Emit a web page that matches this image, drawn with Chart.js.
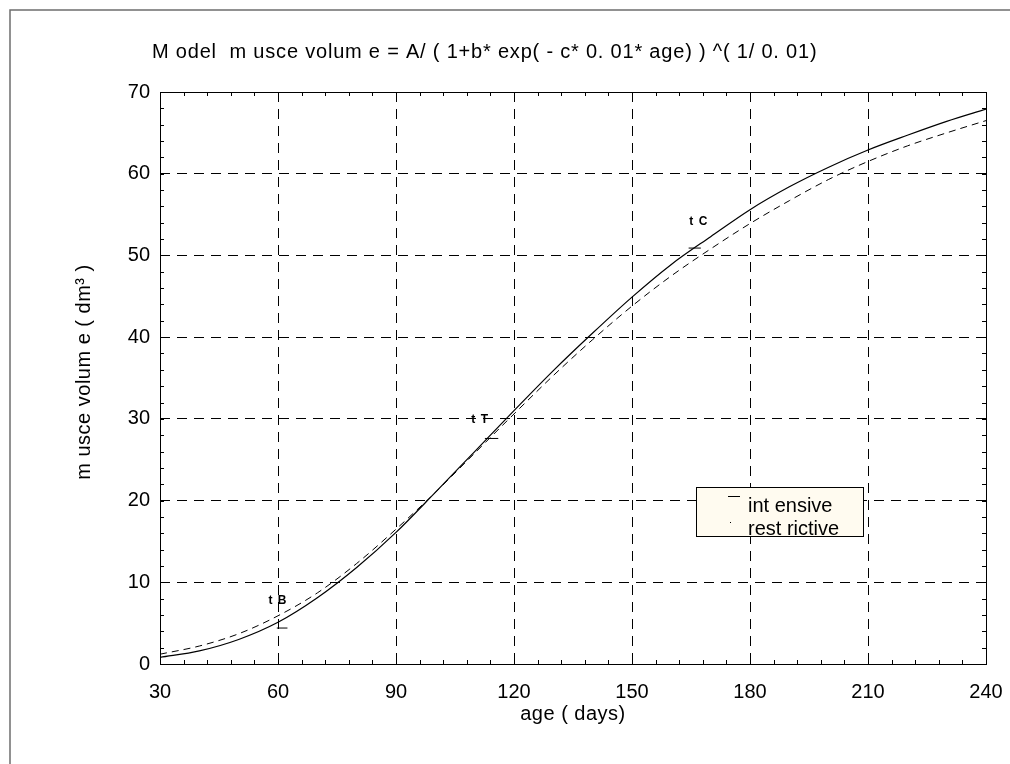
<!DOCTYPE html>
<html>
<head>
<meta charset="utf-8">
<script src="https://cdn.jsdelivr.net/npm/chart.js@4.4.0/dist/chart.umd.min.js"></script>
<style>
  html, body { margin: 0; padding: 0; background: #fff; }
  canvas { display: block; }
</style>
</head>
<body>
<canvas id="chart" width="1010" height="764"></canvas>
<script>
// age in days
const ages = [30, 40, 50, 60, 70, 80, 90, 100, 110, 120, 130, 140, 150, 160, 170, 180, 190, 200, 210, 220, 230, 240];
// muscle volume, dm^3
const intensive = [0.8, 1.6, 3.0, 5.1, 8.1, 11.8, 16.1, 21.0, 26.0, 31.0, 35.9, 40.5, 44.9, 48.9, 52.3, 55.6, 58.4, 60.8, 62.9, 64.7, 66.4, 67.9];
const restrictive = [1.2, 2.2, 3.7, 5.9, 8.7, 12.3, 16.5, 21.0, 25.8, 30.6, 35.3, 39.7, 43.8, 47.5, 50.8, 53.9, 56.7, 59.3, 61.5, 63.4, 65.0, 66.5];

const xTicks = [30, 60, 90, 120, 150, 180, 210, 240];
const yTicks = [0, 10, 20, 30, 40, 50, 60, 70];

// tB / tT / tC markers: short horizontal strokes, and label anchors
const markerNames = ['t B', 't T', 't C'];
const markerFrom = [59.7, 112.6, 164.4];
const markerTo = [62.4, 116.0, 167.5];
const markerLevel = [4.4, 27.6, 50.9];
const labelAge = [60, 111.4, 167];
const labelLevel = [7.8, 29.9, 54.1];

const FONT = '"Liberation Sans", Arial, sans-serif';

function pts(xs, ys) {
  return xs.map((x, i) => ({ x, y: ys[i] }));
}

const markerSets = markerNames.map((name, i) => ({
  label: name,
  data: [{ x: markerFrom[i], y: markerLevel[i] }, { x: markerTo[i], y: markerLevel[i] }],
  borderColor: '#000',
  borderWidth: 1,
  pointRadius: 0,
  fill: false,
}));

const decorations = {
  id: 'decorations',
  afterDatasetsDraw(chart) {
    const { ctx, chartArea: a, scales } = chart;
    const sx = scales.x, sy = scales.y;
    ctx.save();

    // axes box
    ctx.strokeStyle = '#000';
    ctx.lineWidth = 1;
    ctx.strokeRect(a.left + 0.5, a.top + 0.5, a.right - a.left, a.bottom - a.top);

    // minor ticks inside the box
    ctx.beginPath();
    for (let v = 30; v <= 240; v += 6) {
      const px = Math.round(sx.getPixelForValue(v)) + 0.5;
      ctx.moveTo(px, a.bottom); ctx.lineTo(px, a.bottom - 4);
      ctx.moveTo(px, a.top); ctx.lineTo(px, a.top + 4);
    }
    for (let v = 0; v <= 70; v += 2) {
      const py = Math.round(sy.getPixelForValue(v)) + 0.5;
      ctx.moveTo(a.left, py); ctx.lineTo(a.left + 4, py);
      ctx.moveTo(a.right, py); ctx.lineTo(a.right - 4, py);
    }
    ctx.stroke();

    // marker labels
    ctx.fillStyle = '#000';
    ctx.font = 'bold 12px ' + FONT;
    ctx.letterSpacing = '1px';
    ctx.textAlign = 'center';
    ctx.textBaseline = 'middle';
    markerNames.forEach((name, i) => {
      ctx.fillText(name, sx.getPixelForValue(labelAge[i]), sy.getPixelForValue(labelLevel[i]));
    });
    ctx.restore();
  },
  afterDraw(chart) {
    const { ctx, chartArea: a } = chart;
    ctx.save();

    // figure frame
    ctx.strokeStyle = '#6e6e6e';
    ctx.lineWidth = 1.5;
    ctx.beginPath();
    ctx.moveTo(10, 764); ctx.lineTo(10, 10); ctx.lineTo(1010, 10);
    ctx.stroke();

    ctx.fillStyle = '#000';
    ctx.font = '20px ' + FONT;
    ctx.textBaseline = 'middle';

    // title
    ctx.textAlign = 'left';
    ctx.letterSpacing = '0.8px';
    ctx.fillText('M odel  m usce volum e = A/ ( 1+b* exp( - c* 0. 01* age) ) ^( 1/ 0. 01)', 152, 52);

    // axis titles
    ctx.textAlign = 'center';
    ctx.letterSpacing = '0.5px';
    ctx.fillText('age ( days)', (a.left + a.right) / 2, 714);
    ctx.save();
    ctx.translate(84, 372);
    ctx.rotate(-Math.PI / 2);
    ctx.fillText('m usce volum e ( dm³ )', 0, 0);
    ctx.restore();

    // legend
    ctx.fillStyle = '#fffbf0';
    ctx.fillRect(696, 487, 167, 49);
    ctx.strokeStyle = '#000';
    ctx.lineWidth = 1;
    ctx.strokeRect(696.5, 487.5, 167, 49);
    ctx.beginPath();
    ctx.moveTo(728, 496.5); ctx.lineTo(740, 496.5);
    ctx.stroke();
    ctx.fillStyle = '#000';
    ctx.fillRect(730, 522, 1, 1);
    ctx.textAlign = 'left';
    ctx.letterSpacing = '0px';
    ctx.fillText('int ensive', 748, 506);
    ctx.fillText('rest rictive', 748, 529);
    ctx.restore();
  },
};

new Chart(document.getElementById('chart'), {
  type: 'line',
  data: {
    datasets: [
      {
        label: 'intensive',
        data: pts(ages, intensive),
        borderColor: '#000',
        borderWidth: 1.2,
        pointRadius: 0,
        cubicInterpolationMode: 'monotone',
        fill: false,
      },
      {
        label: 'restrictive',
        data: pts(ages, restrictive),
        borderColor: '#000',
        borderWidth: 1,
        borderDash: [7, 5],
        pointRadius: 0,
        cubicInterpolationMode: 'monotone',
        fill: false,
      },
      ...markerSets,
    ],
  },
  options: {
    responsive: false,
    animation: false,
    devicePixelRatio: 1,
    layout: { padding: { left: 100, right: 24, top: 92, bottom: 50 } },
    plugins: {
      legend: { display: false },
      tooltip: { enabled: false },
    },
    scales: {
      x: {
        type: 'linear',
        min: 30,
        max: 240,
        afterFit: (s) => { s.height = 50; s.paddingLeft = 0; s.paddingRight = 0; },
        afterBuildTicks: (s) => { s.ticks = xTicks.map((v) => ({ value: v })); },
        ticks: { color: '#000', padding: 16, font: { family: FONT, size: 20 }, maxRotation: 0 },
        grid: { color: '#000', lineWidth: 1, drawTicks: false },
        border: { display: false, dash: [10, 7] },
      },
      y: {
        type: 'linear',
        min: 0,
        max: 70,
        afterFit: (s) => { s.width = 60; s.paddingTop = 0; s.paddingBottom = 0; },
        afterBuildTicks: (s) => { s.ticks = yTicks.map((v) => ({ value: v })); },
        ticks: { color: '#000', padding: 10, font: { family: FONT, size: 20 } },
        grid: { color: '#000', lineWidth: 1, drawTicks: false },
        border: { display: false, dash: [10, 7] },
      },
    },
  },
  plugins: [decorations],
});
</script>
</body>
</html>
